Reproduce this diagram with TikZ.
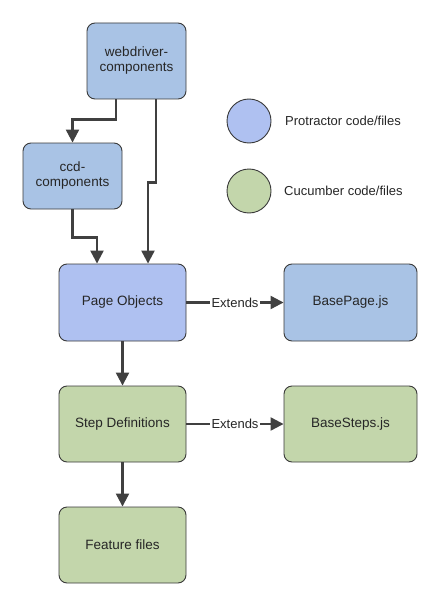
\documentclass[tikz,border=0pt]{standalone}
\usepackage{fontspec}
\setmainfont{Liberation Sans}
\usetikzlibrary{arrows.meta,positioning}
\definecolor{protA}{HTML}{A9C3E5}
\definecolor{protB}{HTML}{AFC1F1}
\definecolor{cuc}{HTML}{C3D6AB}
\definecolor{edge}{HTML}{3A3A3A}
\definecolor{arrc}{HTML}{404040}
\tikzset{
  box/.style={draw=edge, line width=0.9pt, rounded corners=8pt, align=center,
    font=\fontsize{13.5}{15}\selectfont, text=black!85, inner sep=0pt},
  legdot/.style={draw=edge, line width=0.9pt, circle, minimum size=44pt, inner sep=0pt},
  legtxt/.style={anchor=west, font=\fontsize{13}{15}\selectfont, text=black!85, inner sep=0pt},
  arr/.style={draw=arrc, line width=2.2pt, -{Triangle[length=13pt,width=13pt]}},
  lbl/.style={fill=white, font=\fontsize{13}{15}\selectfont, text=black!85, inner sep=2pt}
}
\begin{document}
\begin{tikzpicture}[x=1pt,y=1pt]
\useasboundingbox (0,0) rectangle (437,-599);
\node[box, fill=protA, minimum width=99pt, minimum height=76pt] (web) at (136.5,-61) {webdriver-\\components};
\node[box, fill=protA, minimum width=99pt, minimum height=66pt] (ccd) at (72.5,-176) {ccd-\\components};
\node[box, fill=protB, minimum width=127pt, minimum height=77pt] (page) at (122.5,-302.5) {Page Objects};
\node[box, fill=protA, minimum width=133pt, minimum height=77pt] (bpage) at (350.5,-302.5) {BasePage.js};
\node[box, fill=cuc, minimum width=127pt, minimum height=76pt] (step) at (122.5,-424) {Step Definitions};
\node[box, fill=cuc, minimum width=133pt, minimum height=76pt] (bsteps) at (350.5,-424) {BaseSteps.js};
\node[box, fill=cuc, minimum width=127pt, minimum height=76pt] (feat) at (122.5,-545) {Feature files};
\node[legdot, fill=protB] (lp) at (249,-121) {};
\node[legdot, fill=cuc] (lc) at (249,-191) {};
\node[legtxt] (lpt) at (285,-121) {Protractor code/files};
\node[legtxt] (lct) at (284,-191) {Cucumber code/files};
\draw[arr] ([xshift=-20.5pt]web.south) -- ++(0,-20) -| (ccd.north);
\draw[arr] ([xshift=19.5pt]web.south) -- ++(0,-83) -| ([xshift=25.5pt]page.north);
\draw[arr] (ccd.south) -- ++(0,-28) -| ([xshift=-25.5pt]page.north);
\draw[arr] (page) -- (step);
\draw[arr] (step) -- (feat);
\draw[arr] (page.east) -- node[lbl] (e1) {Extends} (bpage.west);
\draw[arr] (step.east) -- node[lbl] (e2) {Extends} (bsteps.west);
\end{tikzpicture}
\end{document}
